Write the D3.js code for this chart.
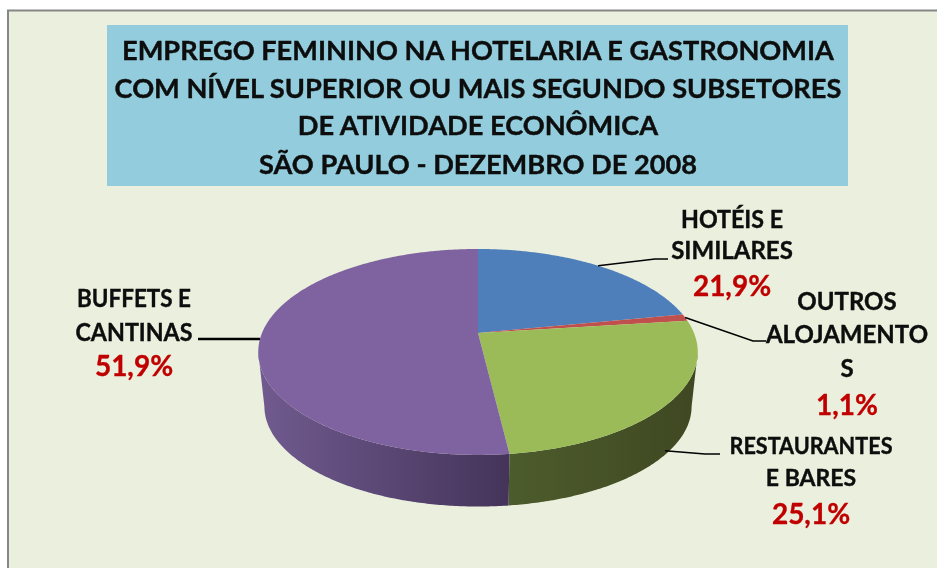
<!DOCTYPE html>
<html><head><meta charset="utf-8">
<script src="https://cdn.jsdelivr.net/npm/d3@7"></script>
<style>html,body{margin:0;padding:0;background:#fff}svg{display:block}text{font-family:Lato,Carlito,sans-serif;font-weight:700;stroke-width:.35;filter:url(#soft)}</style>
</head><body><svg id="c" width="937" height="568"></svg>
<script>
const titleLines = ["EMPREGO FEMININO NA HOTELARIA E GASTRONOMIA","COM NÍVEL SUPERIOR OU MAIS SEGUNDO SUBSETORES","DE ATIVIDADE ECONÔMICA","SÃO PAULO - DEZEMBRO DE 2008"];
const categories = ["HOTÉIS E SIMILARES","OUTROS ALOJAMENTOS","RESTAURANTES E BARES","BUFFETS E CANTINAS"];
const values = [21.9,1.1,25.1,51.9];
const valueLabels = ["21,9%","1,1%","25,1%","51,9%"];
const labelLines = [["HOTÉIS E","SIMILARES"],["OUTROS","ALOJAMENTO","S"],["RESTAURANTES","E BARES"],["BUFFETS E","CANTINAS"]];
const topColors = ["#4f7fbb","#c0504d","#9bbb59","#7f62a0"];
const sideColors = [null,null,["#4d5c2c","#3f4822"],["#705a8e","#44345a"]];

const svg = d3.select("#c");
const cx=478, cy=333, A=216, B=99.5, K=0.184, depth=55, shrink=0.972;
const project=(ang,level=0)=>{
  const u=Math.sin(ang), v=Math.cos(ang), w=1+K*v, s=1-(1-shrink)*level;
  return [cx+s*A*u/w, cy+depth*level-s*B*v/w];
};
const arcs=d3.pie().sort(null).startAngle(0).endAngle(2*Math.PI)(values);
const line=d3.line();
const rim=(a0,a1,level)=>{
  const n=Math.max(2,Math.ceil((a1-a0)/0.01));
  return d3.range(n+1).map(i=>project(a0+(a1-a0)*i/n,level));
};

const defs=svg.append("defs");
defs.append("filter").attr("id","soft").attr("x","-5%").attr("y","-10%").attr("width","110%").attr("height","120%")
  .append("feGaussianBlur").attr("stdDeviation",0.35);

svg.append("rect").attr("x",8).attr("y",10.5).attr("width",940).attr("height",570)
  .attr("fill","#ebf0de").attr("stroke","#868686").attr("stroke-width",2);
svg.append("rect").attr("x",107).attr("y",25).attr("width",741).attr("height",161).attr("fill","#93cddd");
const titleY=[60,98,135,174];
svg.append("g").selectAll("text").data(titleLines).join("text")
  .attr("x",478).attr("y",(d,i)=>titleY[i]).attr("text-anchor","middle")
  .attr("font-size",27.2).attr("fill","#0a0a0a").attr("stroke","#0a0a0a").text(d=>d);

// silhouette angles: where the projected disc is widest
const tangent=Math.acos(-K);
arcs.forEach((a,i)=>{
  if(!sideColors[i]) return;
  const lo=i===3?[263,509]:[509,692];
  const g=defs.append("linearGradient").attr("id","side"+i).attr("gradientUnits","userSpaceOnUse")
    .attr("x1",lo[0]).attr("x2",lo[1]).attr("y1",0).attr("y2",0);
  g.append("stop").attr("offset",0).attr("stop-color",sideColors[i][0]);
  g.append("stop").attr("offset",1).attr("stop-color",sideColors[i][1]);
  const a0=Math.max(a.startAngle,tangent), a1=Math.min(a.endAngle,2*Math.PI-tangent);
  const t=rim(a0,a1,0), b=rim(a0,a1,1).reverse();
  svg.append("path").attr("d",line(t.concat(b))+"Z").attr("fill",`url(#side${i})`);
});
arcs.forEach((a,i)=>{
  svg.append("path").attr("d",line([[cx,cy]].concat(rim(a.startAngle,a.endAngle,0)))+"Z").attr("fill",topColors[i]);
});

// label layout: centre x, line baselines, fitted line widths, value baseline, leader elbow and end
const layout=[
 {x:732,ys:[228,259],fit:[102,null],vy:296,elbow:[655,259],end:[668,259],level:0,w:1.5},
 {x:847,ys:[310,343,377],fit:[null,null,null],vy:415,elbow:[753,341],end:[766,341],level:0,w:1.5},
 {x:811,ys:[454,486],fit:[163,null],vy:524,elbow:[705,454],end:[720,454],level:0.92,w:1.5},
 {x:134,ys:[307,341],fit:[114,117],vy:376,elbow:[198,339],end:[198,339],level:0,w:2.5}
];
arcs.forEach((a,i)=>{
  const L=layout[i], mid=(a.startAngle+a.endAngle)/2;
  svg.append("path").attr("d",line([project(mid,L.level),L.elbow,L.end])).attr("fill","none")
    .attr("stroke","#000").attr("stroke-width",L.w);
  labelLines[i].forEach((t,j)=>{
    const el=svg.append("text").attr("x",L.x).attr("y",L.ys[j]).attr("text-anchor","middle")
      .attr("font-size",i===2?23:24).attr("fill","#0a0a0a").attr("stroke","#0a0a0a").text(t);
    if(L.fit[j]) el.attr("textLength",L.fit[j]).attr("lengthAdjust","spacingAndGlyphs");
  });
  svg.append("text").attr("x",L.x).attr("y",L.vy).attr("text-anchor","middle")
    .attr("font-size",28).attr("fill","#c00000").attr("stroke","#c00000").text(valueLabels[i]);
});
</script></body></html>
